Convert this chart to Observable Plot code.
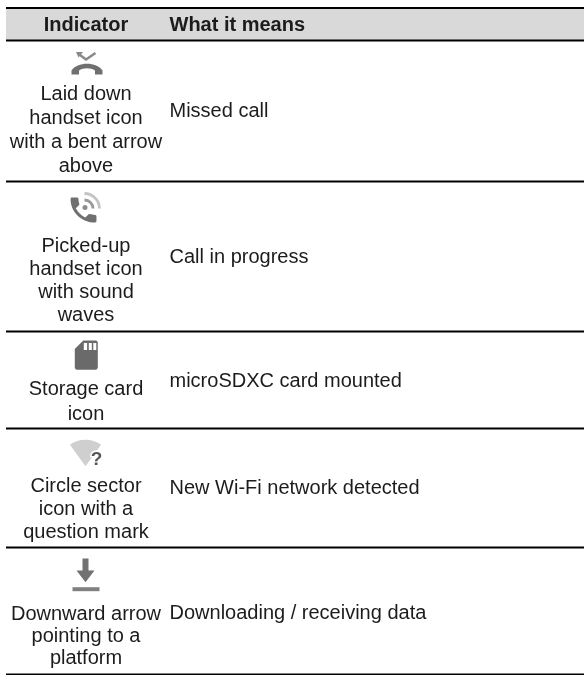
<!DOCTYPE html>
<html>
<head>
<meta charset="utf-8">
<script src="https://cdn.jsdelivr.net/npm/d3@7"></script>
<script src="https://cdn.jsdelivr.net/npm/@observablehq/plot@0.6"></script>
<style>html,body{margin:0;padding:0;background:#fff}svg{display:block}</style>
</head>
<body>
<div id="chart"></div>
<script>
// Table content
const headers = ["Indicator", "What it means"];
const indicators = [
  ["Laid down", "handset icon", "with a bent arrow", "above"],
  ["Picked-up", "handset icon", "with sound", "waves"],
  ["Storage card", "icon"],
  ["Circle sector", "icon with a", "question mark"],
  ["Downward arrow", "pointing to a", "platform"]
];
const meanings = [
  "Missed call",
  "Call in progress",
  "microSDXC card mounted",
  "New Wi-Fi network detected",
  "Downloading / receiving data"
];

// Layout on the page's scale
const rules = [7.5, 40, 181, 331, 428, 547, 674];
const firstLine = [93, 245, 388, 485, 613];
const lineStep = [24, 23, 25, 23, 22];
const meaningRow = [110, 256, 380, 487, 612];
const colX = [85.5, 169];

// Icon glyphs, drawn around their anchor point
const poly = (c, pts) => { pts.forEach(([x, y], i) => i ? c.lineTo(x, y) : c.moveTo(x, y)); c.closePath(); };
const deg = Math.PI / 180;
const glyph = {
  handsetDown: c => {
    c.moveTo(-15.5, 5); c.lineTo(-15.5, 1);
    c.bezierCurveTo(-10, -8, 10, -8, 15.5, 1);
    c.lineTo(15.5, 5); c.lineTo(8, 5); c.lineTo(8, 1);
    c.bezierCurveTo(4, -2, -4, -2, -8, 1);
    c.lineTo(-8, 5); c.closePath();
  },
  bentArrow: c => { c.moveTo(-8, -3); c.lineTo(0, 3); c.lineTo(9.5, -3.5); },
  arrowTip: c => poly(c, [[-10, -4.5], [-3, -4.5], [-7.5, 1]]),
  phone: c => {
    const X = x => (x - 12) * 1.44, Y = y => (y - 12) * 1.39;
    const C = (a, b, d, e, f, g) => c.bezierCurveTo(X(a), Y(b), X(d), Y(e), X(f), Y(g));
    c.moveTo(X(6.62), Y(10.79));
    C(8.06, 13.62, 10.38, 15.93, 13.21, 17.38);
    c.lineTo(X(15.41), Y(15.18));
    C(15.68, 14.91, 16.08, 14.82, 16.43, 14.94);
    C(17.55, 15.31, 18.76, 15.51, 20, 15.51);
    C(20.55, 15.51, 21, 15.96, 21, 16.51);
    c.lineTo(X(21), Y(20));
    C(21, 20.55, 20.55, 21, 20, 21);
    C(10.61, 21, 3, 13.39, 3, 4);
    C(3, 3.45, 3.45, 3, 4, 3);
    c.lineTo(X(7.5), Y(3));
    C(8.05, 3, 8.5, 3.45, 8.5, 4);
    C(8.5, 5.25, 8.7, 6.45, 9.07, 7.57);
    C(9.18, 7.92, 9.1, 8.31, 8.82, 8.59);
    c.closePath();
  },
  waveDot: c => { c.moveTo(2.5, 0); c.arc(0, 0, 2.5, 0, 2 * Math.PI); },
  waveInner: c => { c.moveTo(0, -8.5); c.arc(0, 0, 8.5, -90 * deg, 0); },
  waveOuter: c => { c.moveTo(0, -15); c.arc(0, 0, 15, -90 * deg, 0); },
  sdCard: c => {
    poly(c, [[-11.5, 13], [-11.5, -6], [-3, -14.7], [10, -14.7], [11.5, -13], [11.5, 13], [10, 14.7], [-10, 14.7]]);
    [[-2.5, 0.8], [2.5, 5.5], [7, 10]].forEach(([a, b]) => poly(c, [[a, -12], [a, -5.2], [b, -5.2], [b, -12]]));
  },
  sector: c => { c.moveTo(0, 0); c.arc(0, 0, 26.4, -126 * deg, -54 * deg); c.closePath(); },
  downArrow: c => poly(c, [[-3, -12], [3, -12], [3, 0], [9, 0], [0, 11.7], [-9, 0], [-3, 0]]),
  platform: c => poly(c, [[-13.5, -2], [13.5, -2], [13.5, 2], [-13.5, 2]])
};
const sym = name => ({draw: glyph[name]});

const icons = [
  {name: "handsetDown", x: 86.5, y: 69, fill: "#707070"},
  {name: "bentArrow", x: 85.5, y: 56, stroke: "#8a8a8a", w: 2.6},
  {name: "arrowTip", x: 85.5, y: 56, fill: "#8a8a8a"},
  {name: "phone", x: 83, y: 209.5, fill: "#707070"},
  {name: "waveDot", x: 84.5, y: 207, fill: "#8c8c8c"},
  {name: "waveInner", x: 84, y: 208, stroke: "#999", w: 2.8},
  {name: "waveOuter", x: 84, y: 208, stroke: "#c4c4c4", w: 2.8},
  {name: "sdCard", x: 85.8, y: 354.6, fill: "#6a6a6a"},
  {name: "sector", x: 85, y: 465.7, fill: "#cfcfcf"},
  {name: "downArrow", x: 85, y: 570, fill: "#727272"},
  {name: "platform", x: 85.5, y: 588.7, fill: "#808080"}
];

const indicatorText = indicators.flatMap((lines, r) =>
  lines.map((t, i) => ({t, y: firstLine[r] + i * lineStep[r]})));
const meaningText = meanings.map((t, r) => ({t, y: meaningRow[r]}));
const font = "Liberation Sans, Arial, sans-serif";
const ink = "#1c1c1c";

const plot = Plot.plot({
  width: 584, height: 675,
  margin: 0,
  x: {domain: [0, 584], range: [0, 584], axis: null},
  y: {domain: [0, 675], range: [0, 675], axis: null},
  style: {fontFamily: font, background: "#fff", filter: "blur(0.4px)"},
  marks: [
    Plot.rect([0], {x1: 6, x2: 584, y1: rules[0], y2: rules[1], fill: "#d9d9d9"}),
    Plot.ruleY(rules, {x1: 6, x2: 584, stroke: "#000", strokeWidth: 2}),
    Plot.text([headers[0]], {x: colX[0], y: 24, text: d => d, fontWeight: "bold", fontSize: 20, fill: ink, lineAnchor: "middle"}),
    Plot.text([headers[1]], {x: colX[1], y: 24, text: d => d, textAnchor: "start", fontWeight: "bold", fontSize: 20, fill: ink, lineAnchor: "middle"}),
    Plot.text(indicatorText, {x: colX[0], y: "y", text: "t", fontSize: 20, fill: ink, lineAnchor: "middle"}),
    Plot.text(meaningText, {x: colX[1], y: "y", text: "t", fontSize: 20, fill: ink, textAnchor: "start", lineAnchor: "middle"}),
    ...icons.map(d => Plot.dot([d], {
      x: "x", y: "y", r: 5,
      symbol: sym(d.name),
      fill: d.fill ?? "none",
      stroke: d.stroke ?? "none",
      strokeWidth: d.w ?? 0
    })),
    Plot.text(["?"], {x: 96, y: 458, text: d => d, fontSize: 19, fontWeight: "bold", fill: "#555",
      stroke: "#fff", strokeWidth: 3, lineAnchor: "middle"})
  ]
});
document.getElementById("chart").appendChild(plot);
</script>
</body>
</html>
